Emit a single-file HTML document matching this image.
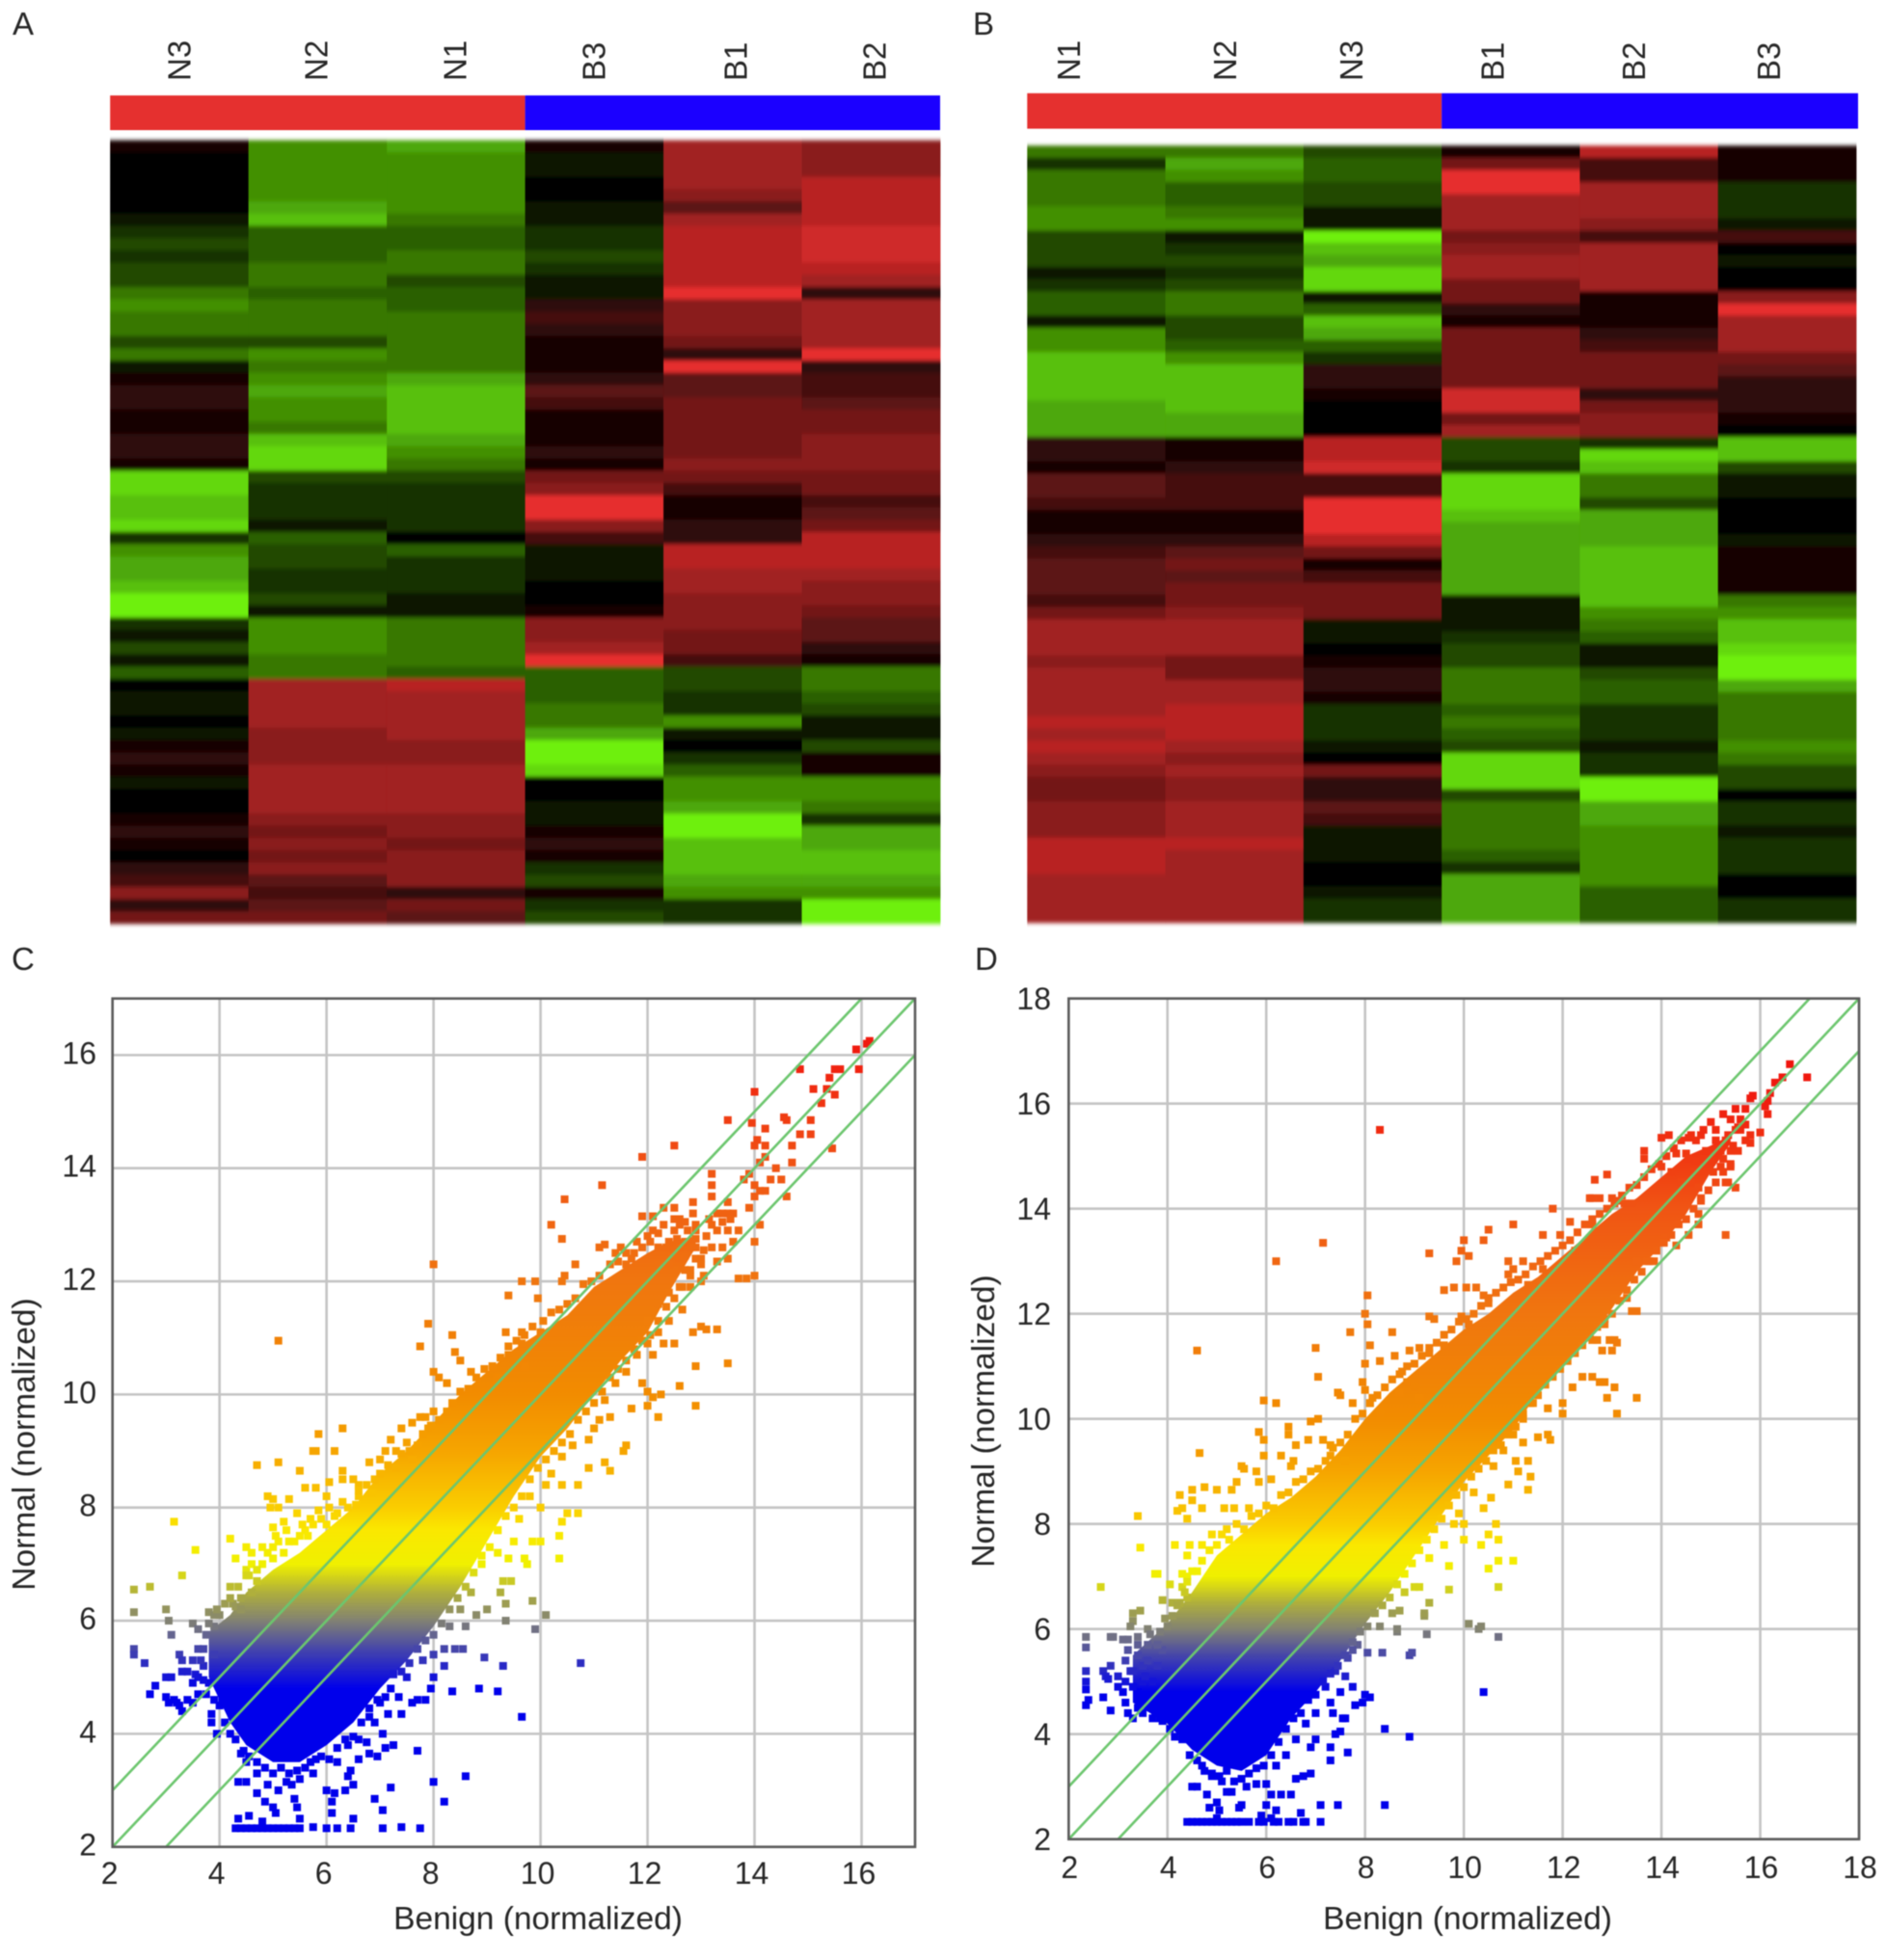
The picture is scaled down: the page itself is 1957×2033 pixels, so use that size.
<!DOCTYPE html>
<html lang="en">
<head>
<meta charset="utf-8">
<title>Heatmaps and scatter plots: Normal vs Benign</title>
<style>
html,body{margin:0;padding:0;background:#fff;}
svg{display:block;filter:blur(0.55px);}
text{font-family:"Liberation Sans",sans-serif;fill:#262626;}
</style>
</head>
<body>
<svg id="fig" xmlns="http://www.w3.org/2000/svg" width="1957" height="2033" viewBox="0 0 1957 2033">
  <defs>
    <filter id="rowSoften" x="0" y="-1%" width="100%" height="102%"><feGaussianBlur stdDeviation="0 2"/></filter>
  </defs>
  <rect x="0" y="0" width="1957" height="2033" fill="#fff"/>
  <g id="panelA"></g>
  <g id="panelB"></g>
  <g id="panelC"></g>
  <g id="panelD"></g>
  <text x="13" y="36" font-size="33">A</text>
  <text x="1009" y="36" font-size="33">B</text>
  <text x="12" y="1006" font-size="33">C</text>
  <text x="1011" y="1006" font-size="33">D</text>
  <text x="558" y="2001" font-size="33.5" text-anchor="middle">Benign (normalized)</text>
  <text transform="translate(36,1498) rotate(-90)" font-size="33.5" text-anchor="middle">Normal (normalized)</text>
  <text x="1522" y="2001" font-size="33.5" text-anchor="middle">Benign (normalized)</text>
  <text transform="translate(1031,1474) rotate(-90)" font-size="33.5" text-anchor="middle">Normal (normalized)</text>
</svg>
<script>
// ---------- Heatmap A: values per sample, top row to bottom row (-10 green .. +10 red) ----------
const samplesA = ['N3','N2','N1','B3','B1','B2'];
const heatA_N3 = [1,0,0,0,0,0,-1,-2,-3,-2, -3,-3,-5,-6,-5,-5,-3,-5,-1,1, 2,2,1,1,2,2,1,-9,-9,-8, -8,-9,-2,-6,-7,-7,-8,-10,-10,-2, -1,-3,-1,-4,0,-1,-1,0,-1,1, 2,1,-1,0,0,1,2,1,0,2, 3,6,2,5];
const heatA_N2 = [-6,-6,-6,-6,-6,-7,-8,-4,-4,-4, -5,-5,-4,-5,-5,-5,-3,-6,-5,-6, -7,-6,-6,-5,-8,-9,-9,-3,-2,-2, -2,-1,-4,-3,-3,-2,-2,-3,-1,-6, -6,-6,-5,-5,7,7,7,7,6,6, 6,7,7,7,7,6,5,6,5,6, 4,3,4,5];
const heatA_N1 = [-7,-6,-6,-6,-6,-6,-5,-4,-4,-5, -5,-3,-4,-4,-5,-5,-5,-5,-5,-7, -8,-8,-8,-8,-7,-6,-5,-3,-2,-2, -2,-2,0,-4,-2,-2,-2,-1,-1,-5, -5,-5,-5,-4,8,7,7,7,7,6, 6,7,7,7,7,6,6,5,6,6, 6,2,5,4];
const heatA_B3 = [1,-1,-1,0,0,-1,-1,-2,-2,-3, -2,-1,-1,2,3,2,1,1,1,2, 4,3,1,1,1,2,1,5,6,10, 10,6,3,-1,-1,-1,0,0,1,6, 6,7,10,-4,-4,-4,-5,-5,-7,-10, -10,-9,0,0,-1,-1,1,2,1,-2, -3,1,-2,-3];
const heatA_B1 = [7,7,7,7,6,4,7,8,8,8, 8,8,10,6,6,6,5,2,10,4, 4,5,5,5,5,5,6,5,3,1, 1,2,2,8,8,7,7,6,6,6, 5,5,3,-3,-3,-2,-2,-6,-1,0, -2,-4,-6,-6,-7,-10,-10,-8,-8,-8, -7,-6,-2,-2];
const heatA_B2 = [6,6,6,8,8,8,8,9,9,9, 8,7,2,7,7,7,7,10,2,3, 3,4,5,5,6,6,6,5,5,3, 4,5,8,8,8,7,6,6,5,4, 4,2,1,-5,-5,-4,-3,-1,-1,-3, 1,1,-6,-6,-5,-2,-7,-7,-8,-8, -7,-6,-10,-10];

// ---------- Heatmap B ----------
const samplesB = ['N1','N2','N3','B1','B2','B3'];
const heatB_N1 = [-5,-2,-5,-5,-5,-6,-6,-3,-3,-3, -1,-2,-4,-4,-1,-6,-6,-8,-8,-8, -8,-7,-7,-7,2,2,1,4,4,3, 1,1,2,3,4,4,4,3,5,7, 7,7,6,7,7,7,7,8,7,8, 7,6,5,5,6,6,6,8,8,8, 7,7,7,7];
const heatB_N2 = [-5,-7,-6,-4,-4,-5,-6,-1,-2,-3, -2,-3,-5,-5,-3,-3,-4,-6,-8,-8, -8,-8,-7,-7,1,1,2,3,3,3, 1,1,2,4,5,4,5,5,6,7, 7,7,5,5,7,7,8,8,8,7, 6,7,6,6,7,7,7,8,7,7, 7,7,7,7];
const heatB_N3 = [-3,-4,-4,-3,-3,-1,-1,-10,-8,-7, -9,-9,-1,-4,-8,-7,-4,-2,2,2, 1,0,0,0,8,8,9,3,3,10, 10,10,8,5,1,3,5,5,5,-1, -1,0,1,2,2,1,-2,-2,-2,-1, 0,5,2,2,4,3,-1,-1,-1,0, 0,-1,-2,-2];
const heatB_B1 = [1,5,10,10,7,7,7,5,6,7, 7,5,5,2,1,5,5,5,5,5, 9,9,5,7,-3,-3,-2,-9,-9,-9, -8,-7,-7,-7,-7,-7,-7,-1,-1,-1, -2,-3,-3,-5,-5,-5,-4,-5,-4,-3, -9,-9,-9,-3,-5,-5,-5,-5,-4,-2, -7,-7,-7,-7];
const heatB_B2 = [8,3,3,7,7,7,6,3,7,7, 7,7,1,1,1,2,3,5,5,5, 2,5,6,6,-2,-9,-8,-5,-5,-3, -7,-7,-7,-8,-8,-8,-8,-8,-6,-5, -4,-1,-1,-3,-4,-4,-2,-2,-2,-1, -2,-2,-10,-10,-7,-7,-6,-6,-6,-6, -6,-4,-4,-4];
const heatB_B3 = [1,1,1,-2,-2,-2,-1,3,0,-1, 0,0,6,10,7,7,7,5,4,2, 2,2,1,0,-8,-8,-3,-1,-1,0, 0,0,-1,1,1,1,1,-5,-6,-8, -8,-9,-10,-10,-7,-5,-5,-5,-5,-6, -5,-3,-3,0,-2,-2,-1,-2,-2,-2, 0,0,-2,-2];

// ---------- Scatter tick labels ----------
const ticksCx = [2,4,6,8,10,12,14,16];
const ticksCy = [2,4,6,8,10,12,14,16];
const ticksDx = [2,4,6,8,10,12,14,16,18];
const ticksDy = [2,4,6,8,10,12,14,16,18];
const foldOffsets = [1,0,-1];

// ---------- Scatter C: dense cloud outline (x, lower y, upper y) ----------
const coreCx  = [3.8,4.2,4.5,5,5.5,6,6.5,7,7.5,8,8.5,9,9.5,10,10.5,11,11.5,12,12.4,12.9];
const coreClo = [5.0,4.2,3.8,3.5,3.5,3.8,4.2,4.8,5.3,5.9,6.6,7.4,8.2,8.9,9.4,10,10.6,11.1,11.8,12.6];
const coreChi = [5.8,6.1,6.5,6.9,7.2,7.6,8,8.6,9,9.5,10,10.4,10.8,11.1,11.4,11.9,12.2,12.5,12.7,12.8];

// Scatter C: individually visible points [benign, normal]
const pointsC = [
[16.15,16.25],[16.1,16.2],[15.9,16.1],[15.95,15.75],[15.6,15.75],[15.5,15.75],[15.4,15.6],[15.35,15.4],[15.5,15.3],[15.25,15.15],[15.1,15.4],[14.85,15.75],[14,15.35],[13.5,14.85],[13.95,14.8],[15.05,14.85],[14.55,14.9],[14.6,14.85],[14.85,14.6],[15.05,14.6],[14.05,14.5],[14.2,14.7],[14,14.4],[14.2,14.4],[14.7,14.4],[15.45,14.35],[14.7,14.1],[14.2,14.2],[14.1,14.1],[14.4,14],[13.9,13.9],[14,13.7],[14.1,13.6],[14.3,13.8],[14.5,13.8],[13.8,13.8],[14,13.5],[14.2,13.6],[14.6,13.5],[13.5,13.4],[13.9,13.3],[14.1,13],[14,12.7],[13.5,13.2],[13.6,13.2],[13.2,13.9],[13.2,13.7],[13.2,13.5],[12.5,14.4],[11.9,14.2],[11.15,13.7],[10.45,13.45],[10.2,13],[10.4,12.75],[10.65,12.3],[10.45,12.1],[10.4,12],[11.1,12.6],[11.2,12.65],[9.9,12],[9.65,12],[9.4,11.75],[8,12.3],[9.95,11.7],[7.9,11.25],[8.35,11.05],[7.75,10.85],[8.4,10.75],[8.5,10.6],[8.7,10.4],[8,10.4],[8.1,10.3],[8.25,10.2],[5.1,10.95],[9.35,11.1],[9.65,11.1],[10,11.1],[9.65,10.9],[9.4,10.7],[9.2,10.3],[9.5,10.6],[9.7,10.5],
[6.3,9.4],[5.85,9.3],[5.75,9],[5.8,9],[6.15,9],[4.7,8.75],[5.1,8.8],[5.5,8.65],[6.3,8.65],[6.3,8.5],[6.05,8.45],[5.8,8.35],[5.6,8.35],[5.3,8.15],[5,8.15],[5.1,8],[4.9,8.2],[4.95,8],[5.45,7.9],[5.85,7.95],[6.2,7.9],[6.6,8.4],[7.1,9],[7.3,9],[7.5,9.15],[7.6,8.85],[7.85,9.6],[8,9.7],[7.75,9.6],[7.9,9.4],[6.9,8.5],[6.6,8.2],[5.2,7.75],[5,7.65],[5.3,7.4],[5.1,7.4],[4.5,7.3],[4.2,7.45],[4.6,7.2],[3.15,7.75],[3.55,7.25],[3.3,6.8],[2.4,6.55],[2.7,6.6],[2.4,6.15],[3,6.2],[3.05,6],[3.1,5.75],[3.5,5.95],[3.8,6.15],[3.9,6.1],[4,6.1],[3.9,5.9],[4.25,6.3],[4.3,6.25],[4.4,6.2],[4.4,6.4],[4.6,6.5],[4.7,6.7],[4.5,6.9],[4.3,7.1],[4.8,7],[5,7.1],[5.6,7.6],[5.7,7.8],[6,8.2],[6.5,8.5],[6.8,8.8],[7.2,9.2],[7.4,9.4],[7.6,9.5],
[2.4,5.5],[2.4,5.4],[2.6,5.25],[3.25,5.4],[3.3,5.3],[3.1,5],[3.3,5.1],[3.4,5.1],[3.55,5.05],[3,5],[2.8,4.85],[2.7,4.7],[3,4.65],[3.05,4.55],[3.15,4.6],[3.2,4.55],[3.25,4.5],[3.3,4.4],[3.4,4.6],[3.5,4.55],[3.6,4.7],[3.75,4.7],[3.85,4.35],[3.85,4.2],[3.95,4],[3.9,5.4],[3.6,5.5],[3.7,5.2],[3.8,4.9],[3.5,5.3],[3.6,5],[4,4.5],[4.1,4.2],[4.2,4],
[4.3,2.33],[4.4,2.33],[4.5,2.33],[4.6,2.33],[4.7,2.33],[4.8,2.33],[4.9,2.33],[5,2.33],[5.1,2.33],[5.2,2.33],[5.3,2.33],[5.4,2.33],[5.5,2.33],[5.75,2.35],[6,2.33],[6.2,2.33],[6.45,2.33],[7.05,2.33],[7.4,2.35],[7.75,2.33],[4.35,2.5],[4.55,2.55],[4.8,2.45],[5.5,2.5],[6.1,2.6],[6.5,2.5],[6.1,2.8],[6.15,2.95],[6.35,3],[6.5,3.1],[6,3],[6.9,2.85],[7.05,2.65],[7.2,3.05],[8.2,2.8],[8.6,3.25],[8,3.15],[7.7,3.7],[7.1,3.75],[7.25,3.8],[4.4,3.65],[4.5,3.5],[4.35,3.15],[4.5,3.15],[4.7,2.95],[4.85,2.8],[5,2.7],[5.05,2.6],[5.4,2.85],[5.45,2.7],[5.25,3.15],[5.35,3.1],[5.5,3.2],[5.7,3.5],[5.8,3.55],[6.4,3.25],[6.45,3.35],[6.6,3.55],[6.8,3.65],[6.95,3.6],[6.75,3.85],[7.05,4],[7.15,4.35],[7,4.55],[7.4,4.35],[7.35,4.65],[7.6,4.55],[7.7,4.6],[7.85,4.6],[7.95,4.8],[8,5],[8.2,5.2],[8.35,4.75],[8.85,4.8],[9.2,4.75],[9.65,4.3],[9.3,5.2],[10.75,5.25],[8.95,5.35],[8.4,5.5],[8.2,5.5],[8.55,5.5],[4.7,3.3],[4.9,3.1],[5.1,3],[6.2,3.5],[6.6,3.9],[6.4,3.8],[7.2,4.8],[7.5,5],[7.8,5.3],[8,5.4],[6.8,4.3],[6.9,4.2],
[8.8,6.1],[9,6.2],[9.35,6],[9.35,6.3],[9.25,6.5],[9.85,6.35],[10.1,6.1],[9.9,5.85],[9.45,6.7],[9.3,6.7],[8.9,7],[8.7,6.5],[8.5,6.2],[8.3,5.9],[8.6,5.9],
[10.35,7.1],[10.35,7.5],[10.4,7.75],[10.5,7.9],[10.7,7.9],[10,7.4],[9.85,7.4],[9.7,7.1],[9.75,7],[9.4,7.1],[10,8],[10.1,8.4],[10.4,8.4],[10.7,8.4],[10.9,8.7],[11.3,8.65],[11.2,8.8],[11.6,9.1],[11.55,9],[11.3,9.6],[11.1,9.55],[11.7,9.75],[12,9.8],[12.2,9.6],[12.1,9.95],[12,10.05],[11.9,10.2],[12.25,10],[12.6,10.15],[12.9,9.8],[12.9,10.5],[13.5,10.55],[13.3,11.15],[13.1,11.15],[12.85,11.1],[12.5,10.9],[12.65,11.5],[13,11.2],[9.2,7.2],[9.5,7.4],[9.6,7.8],[9.8,8.2],[9.2,7.6],[10.2,8.6],[10.4,8.9],[10.6,9.1],[10.9,9.2],[11,9.4],[11.2,9.9],[11.4,10.2],[11.6,10.4],[11.8,10.7],[12,10.9],[12.2,11.1],[12.4,11.3],[12.1,10.7],[12.3,10.9],
[13.7,12.05],[13.85,12.05],[14,12.1],[13.5,12.4],[13.3,12.35],[13,12.4],[12.8,12.6],[12.6,13],[12.5,13.3],[12.6,13.1],[12.7,13.05],[12.85,13.2],[12.85,13.4],[12.3,13.3],[12.1,13.15],[11.9,13.15],[12,12.8],[11.6,12.5],[11.4,12.5],[12.5,12.9],[12.7,12.7],[12.9,12.9],[13.1,12.8],[13.3,12.9],[13.5,12.9],[13.4,12.6],[13.2,12.6],[12.9,12.6],[12.6,12.4],[12.4,12.7],[12.2,12.6],[12.3,12.2],[12.5,12.2],[12.7,12.2],[12.8,11.9],[12.6,11.9],[12.4,11.8],[12.2,11.6],[12,11.3],[12.8,12.2],[13,12],[12.3,13],[12.1,12.9],[12.5,13.1],[12.9,13],[13.2,13],[13.4,13.2],[11.8,12.7],[11.7,12.4],[11.5,12.6]
];
// Scatter C: points along the edges of the dense cloud
const edgePointsC = [
[4.5,6.8],[4.6,7],[4.7,6.9],[4.8,7.3],[4.9,7.2],[5,7.3],[5.05,7.5],[5.2,7.2],[5.25,7.6],[5.4,7.4],[5.5,7.5],[5.55,7.7],[5.65,7.5],[5.75,7.7],[5.9,7.8],[6,7.7],[6.05,8],[6.15,7.85],[6.3,8.1],[6.4,8],[6.55,8.05],[6.6,8.3],[6.75,8.4],[6.85,8.25],[7,8.6],[7,8.85],[7.15,8.75],[7.3,8.7],[7.4,8.95],[7.55,9],[7.7,9.1],[7.8,9.3],[7.95,9.45],[8.1,9.55],[8.25,9.7],[8.35,9.85],[8.5,10.05],[8.65,10.1],[8.8,10.3],[8.95,10.45],[9.1,10.5],[9.25,10.65],[9.4,10.85],[9.55,10.95],[9.7,11.05],[9.85,11.2],[10.05,11.3],[10.2,11.45],[10.35,11.5],[10.5,11.6],[10.65,11.7],[10.8,11.95],[10.95,12],[11.1,12.1],[11.3,12.3],[11.45,12.35],[11.6,12.3],[11.75,12.5],[11.9,12.6],[12.05,12.7],[12.2,12.85],
[4.3,3.9],[4.45,3.7],[4.55,3.6],[4.7,3.5],[4.85,3.4],[5,3.3],[5.15,3.4],[5.3,3.3],[5.45,3.35],[5.6,3.4],[5.75,3.3],[5.9,3.6],[6.05,3.55],[6.2,3.75],[6.35,3.9],[6.5,3.95],[6.65,4.2],[6.8,4.45],[6.95,4.6],[7.1,4.65],[7.25,5.05],[7.4,5.1],[7.55,5.25],[7.7,5.5],[7.85,5.65],[8,5.75],[8.15,5.95],[8.3,6.2],[8.45,6.4],[8.6,6.6],[8.75,6.85],[8.9,7.15],[9.05,7.3],[9.2,7.6],[9.35,7.85],[9.5,8],[9.65,8.2],[9.8,8.5],[9.95,8.7],[10.1,8.85],[10.25,9],[10.4,9.15],[10.55,9.3],[10.7,9.55],[10.85,9.7],[11,9.85],[11.15,10.05],[11.3,10.3],[11.45,10.45],[11.6,10.6],[11.75,10.8],[11.9,10.95],[12.05,11.05],[12.2,11.3],[12.35,11.55],[12.5,11.7],[12.65,11.9],[12.8,12.1],[13,12.3],
[3.5,4.9],[3.65,5.3],[3.7,5.5],[3.75,5.75],[3.8,5.95],[3.6,5.85],[3.95,6.2],[4.05,4.6],[4.1,6.3],[3.7,4.95],[3.9,4.6],[4.2,6.4],[4.35,6.6],[4.2,6.6],[4.55,6.8],
[12.4,12.3],[12.6,12.6],[12.7,12.45],[12.9,12.75],[13.05,12.55],[13.15,13.1],[13.3,13.2],[13.4,13.05],[13.55,13.1],[12.55,12.75],[12.75,12.9],[13.6,12.7],[13.7,12.9],[12.45,12.45],[12.2,12.3],[12.35,12.6],[12.9,12.4],[13.05,12.1]
];

// ---------- Scatter D ----------
const coreDx  = [3.3,4,4.5,5,5.5,6,6.5,7,7.5,8,8.5,9,9.5,10,10.5,11,11.5,12,12.5,13,13.5,14,14.5,15,15.4];
const coreDlo = [4.6,4.2,3.7,3.4,3.3,3.6,4.3,4.8,5.4,6.1,6.7,7.4,8.1,8.8,9.3,9.8,10.5,11,11.5,12.1,12.8,13.3,13.9,14.7,15.25];
const coreDhi = [5.5,6.1,6.7,7.4,7.8,8.2,8.5,8.9,9.4,10,10.5,10.9,11.3,11.7,12,12.4,12.7,13.1,13.5,13.9,14.2,14.6,15,15.2,15.4];

const pointsD = [
[16.95,16.5],[16.6,16.75],[16.45,16.5],[16.3,16.4],[16.2,16.2],[16.15,16.05],[16.1,15.95],[15.85,16.15],[15.8,16.1],[15.7,15.9],[15.5,15.9],[15.25,15.8],[15.1,15.5],[15.4,15.7],[15.55,15.55],[15.35,15.4],[15.6,15.5],[15.8,15.4],[15.8,15.25],[16,15.45],[16.15,15.8],[15.4,15.1],[15.4,14.8],[15.2,14.8],[15.35,14.5],[15.3,14.5],[15.5,14.4],[15.3,13.5],[14.8,14.2],[14.75,13.9],[14.75,13.7],[14.55,13.5],[14.1,13.45],[14.3,13.3],[13.85,13],[13.7,13],[13.5,13],[14.8,15.4],[14.6,15.4],[14.5,15.05],[14.3,15.05],[14.15,15.4],[14,15.35],[13.65,15.1],[13.65,14.95],[14,14.8],[14.2,14.7],[14.4,14.5],[8.3,15.5],[12.65,14.55],[12.9,14.65],[12.6,14.2],[12.55,14.2],[12.75,14.2],[13,14.2],[13.1,14.15],[13.25,14.1],[13.4,14.1],[11.8,14],[12.15,13.75],[11.6,13.5],[11.95,13.5],[12.25,13.2],[12.6,13.7],[11,13.7],[10.5,13.6],[10,13.4],[10.4,13.4],[9.85,13],[10.1,13.1],[9.95,13.2],[9.3,13.15],[7.15,13.35],[6.2,13],[10.9,13],[11,12.85],[11.2,13],[10.9,12.75],[11.6,12.85],[11.3,12.55],[11.55,12.6],[9.8,12.5],[9.6,12.45],[10.05,12.5],[10.25,12.5],[10.4,12.35],[10.5,12.3],[8.05,12.35],[8,12],[8.05,11.8],[9.3,11.95],[9.4,11.9],[7.7,11.65],[8.1,11.4],[8.55,11.65],[7,11.35],[4.6,11.3],[8,11.05],[8.3,11.1],[8.6,11.2],[8.9,11.3],[9.1,11.35],[9.3,11.25],[9.6,11.4],[9.95,11.95],[10.1,11.8],[8.75,10.9],[8.85,10.7],[9,10.6],[8.7,10.5],[9.1,10.4],[7.95,10.7],[8,10.55],[8.15,10.4],[8.3,10.1],[7.05,10.8],[7.45,10.5],[7.5,10.45],[7.75,10.3],[8.1,10.3],[7.05,10],[6.2,10.3],[5.95,10.35],[6.45,9.85],[6.9,9.95],[5.85,9.75],[5.95,9.6],[6.45,9.7],[6.6,9.5],[6.85,9.6],[7.15,9.6],[7.3,9.5],[7.6,9.2],[7.3,9.3],[4.65,9.35],[6.3,9.3],[5.95,9.3],[5.5,9.1],[5.55,9.05],[6.55,9.2],[6.5,9.1],[5.8,9],[6.1,8.85],[5.85,8.8],[5.4,8.8],[5.3,8.65],[5,8.65],[4.75,8.7],[4.5,8.65],[4.25,8.55],[4.3,8.3],[4.2,8.25],[4.5,8.45],[4.7,8.3],[5.15,8.3],[5.35,8.3],[5.65,8.3],[3.4,8.15],[4.4,8.1],[3.45,7.55],[4.15,7.6],[4.45,7.6],[4.7,7.6],[4.9,7.8],[5.2,7.9],[3.75,7.05],[3.8,7.05],[4.05,6.85],[3.9,6.55],[2.65,6.8],[4.4,7.4],[4.5,7.1],[4.4,7],[4.3,7.05],[4.3,6.8],
[3.3,6.3],[3.45,6.35],[3.3,6.15],[3.25,6.05],[3.6,6],[3.85,5.95],[4,6.05],[4.1,6.5],[4.25,6.5],[4.4,6.6],[2.35,5.85],[2.35,5.65],[2.85,5.85],[2.9,5.85],[3.1,5.8],[3.2,5.8],[3.4,5.85],[3.6,5.7],[3.9,5.6],[3.4,5.5],[3.2,5.6],[3.15,5.4],[3.5,5.3],[2.35,5.2],[2.35,5],[2.35,4.85],[2.4,4.65],[2.35,4.55],[2.7,4.7],[2.85,4.45],[2.7,5.2],[2.75,5.1],[2.8,5.05],[2.85,5.3],[3,5.1],[3.15,5],[3.1,4.8],[3.15,4.6],[3.2,4.4],[3.3,4.3],[3.4,4.5],[3.5,4.4],[3.7,4.3],[3.85,4.3],[4,4.5],[3.6,4.7],[3.4,4.8],[3,4.9],[3.25,5.2],[3.3,4.9],[3.5,5],[3.7,5],[3.8,5.3],
[4.4,2.33],[4.5,2.33],[4.6,2.33],[4.7,2.33],[4.8,2.33],[4.9,2.33],[5,2.33],[5.1,2.33],[5.2,2.33],[5.3,2.33],[5.4,2.33],[5.5,2.33],[5.65,2.33],[5.85,2.33],[5.95,2.33],[6.15,2.33],[6.25,2.33],[6.45,2.33],[6.55,2.33],[6.75,2.33],[6.8,2.33],[7.1,2.33],[6.7,2.5],[7.1,2.65],[7.45,2.65],[8.4,2.65],[6.2,2.55],[6.1,2.4],[5.9,2.45],[5,2.4],[5.05,2.55],[5.45,2.6],[5.5,2.65],[4.85,2.6],[5,2.7],[4.8,2.85],[4.6,3],[4.5,3],[5.2,2.9],[5.3,2.9],[5.6,3],[5.8,3.05],[6,3.05],[6.1,2.85],[6.3,2.85],[6.5,2.85],[6,2.65],[6.9,3.25],[6.75,3.2],[6.6,3.15],[7.3,3.5],[7.65,3.65],[7.3,3.75],[7,3.9],[6.9,3.75],[7.4,4],[7.5,4.05],[7.6,4.3],[7.35,4.4],[7.55,4.3],[7.8,4.55],[7.95,4.6],[8,4.75],[8.1,4.7],[8.4,4.1],[8.9,3.95],[10.4,4.8],[7.5,4.8],[7.3,4.6],[7.75,4.9],[7.6,5.1],[7.65,5.45],[7.85,5.7],[7.75,5.6],[8.05,5.55],[8.35,5.55],[8.65,5.95],[8.9,5.5],[8.95,5.55],[9.25,5.9],[8.65,6],[8.3,6.05],[8.55,6.3],[8.7,6.35],[9.2,6.25],[9.2,6.3],[9.3,6.5],[8.8,6.7],[9,6.8],[9.1,6.8],[9.7,6.75],[10.1,6.1],[10.3,6],[10.35,6.05],[10.7,5.85],[10.7,6.8],[10.5,7.15],[10.7,7.3],[11,7.3],[10.5,7.8],[10.7,7.7],[10.65,8],[10.35,7.6],[10,7.7],[9.7,7.2],[9.3,7.35],[10.4,8.3],[10.55,8.5],[10.2,8.6],[10.9,8.75],[11.3,8.65],[11.1,9],[11.35,8.9],[11.05,9.2],[11.3,9.2],[11.2,9.55],[11.5,9.65],[11.7,9.7],[11.75,9.6],[11.7,10.2],[12,10.1],[12,10.3],[12.2,10.6],[12.4,10.8],[12.6,10.8],[12.85,10.7],[12.9,10.4],[13.1,10.1],[13.5,10.4],[13.05,10.6],[12.75,10.7],[12.95,11.5],[12.8,11.3],[13,11.3],[13.1,11.45],[12.85,11.8],[13.05,11.5],[13.4,12.05],[13.5,12.05],[13.05,12.3],[13.3,12.3],[12.6,11.5],[12.7,11.5],
[4.7,3.4],[4.9,3.2],[5.1,3.1],[6.2,3.4],[6.4,3.6],[6.6,3.9],[6.8,4.2],[7,4.4],[7.2,4.9],[7.4,5.2],[9.9,8.2],[10,8],[9.6,7.6],[9.8,8],[10.6,9.1],[10.8,9.4],[11,9.7],[11.2,10],[11.4,10.3]
];
// Scatter D: points along the edges of the dense cloud and its narrow upper tip
const edgePointsD = [
[4.4,6.9],[4.6,7.1],[4.7,7.3],[4.85,7.5],[5,7.6],[5.1,7.8],[5.25,7.7],[5.4,8],[5.55,7.9],[5.7,8.15],[5.85,8.2],[6,8.35],[6.15,8.3],[6.3,8.55],[6.45,8.6],[6.6,8.8],[6.75,8.85],[6.9,9],[7.05,9.05],[7.2,9.2],[7.35,9.45],[7.5,9.55],[7.65,9.7],[7.8,10],[7.95,10.1],[8.1,10.3],[8.25,10.45],[8.4,10.6],[8.55,10.75],[8.7,10.85],[8.85,11],[9,11.05],[9.15,11.2],[9.3,11.35],[9.45,11.45],[9.6,11.6],[9.75,11.7],[9.9,11.85],[10.05,11.9],[10.2,12],[10.35,12.15],[10.5,12.2],[10.65,12.4],[10.8,12.5],[10.95,12.6],[11.1,12.65],[11.25,12.75],[11.4,12.9],[11.55,13],[11.7,13.1],[11.85,13.2],[12,13.3],[12.15,13.4],[12.3,13.55],[12.45,13.7],[12.6,13.8],[12.75,13.9],[12.9,14],[13.05,14.1],[13.2,14.25],[13.35,14.4],[13.5,14.45],[13.65,14.6],[13.8,14.75],[13.95,14.85],[14.1,15],[14.25,15.15],[14.4,15.3],[14.55,15.35],[14.7,15.3],[14.85,15.5],[15,15.65],
[4.3,3.9],[4.45,3.6],[4.6,3.5],[4.75,3.3],[4.9,3.25],[5.05,3.2],[5.2,3.3],[5.35,3.1],[5.5,3.15],[5.65,3.25],[5.8,3.35],[5.95,3.4],[6.1,3.6],[6.25,3.85],[6.4,4.1],[6.55,4.3],[6.7,4.4],[6.85,4.65],[7,4.75],[7.15,5],[7.3,5.15],[7.45,5.3],[7.6,5.5],[7.75,5.75],[7.9,5.95],[8.05,6.05],[8.2,6.3],[8.35,6.45],[8.5,6.6],[8.65,6.85],[8.8,7.05],[8.95,7.25],[9.1,7.5],[9.25,7.7],[9.4,7.9],[9.55,8.1],[9.7,8.35],[9.85,8.55],[10,8.7],[10.15,8.9],[10.3,9.05],[10.45,9.2],[10.6,9.4],[10.75,9.5],[10.9,9.7],[11.05,9.85],[11.2,10.1],[11.35,10.3],[11.5,10.45],[11.65,10.65],[11.8,10.8],[11.95,10.95],[12.1,11.1],[12.25,11.25],[12.4,11.4],[12.55,11.55],[12.7,11.75],[12.85,11.9],[13,12],[13.15,12.25],[13.3,12.45],[13.45,12.65],[13.6,12.8],[13.75,13],[13.9,13.2],[14.05,13.35],[14.2,13.5],[14.35,13.7],[14.5,13.8],[14.65,14],[14.8,14.15],[14.95,14.35],[15.1,14.5],[15.25,14.7],[15.4,14.85],[15.55,15.1],[15.7,15.3],
[14.6,14.5],[14.8,14.7],[15,14.9],[15.2,15.1],[15.3,15.3],[15.5,15.5],[14.7,14.9],[14.9,15.1],[15.1,15.3],[14.75,14.4],[15.05,14.7],[15.25,14.95],[15.45,15.2],[15.6,15.7],[15.7,15.6],[14.65,14.7],[14.55,14.95],[14.85,14.95],
[3.4,5.7],[3.6,5.4],[3.3,5.2],[3.55,5.1],[3.45,4.7],[3.7,4.55],[3.8,5.7],[3.95,6.2],[4.1,6.25],[4.2,6.45],[4.35,6.7],[3.65,5.9],[3.75,4.4],[3.9,4.25],[4.05,4.1],[4.15,3.95]
];

// Point colour along the normal-value axis: [normal value, r, g, b]
const colorStops = [[2,0,0,235],[4.8,0,0,235],[5.5,70,70,170],[6,130,130,115],[6.5,175,175,60],[7,240,240,0],[7.6,250,232,0],[8,250,205,0],[9,246,165,0],[10,242,140,0],[12,240,118,15],[14,240,85,20],[16,240,28,15],[18,240,10,10]];

const NS = 'http://www.w3.org/2000/svg';
function make(tag, attrs, parent){
  const e = document.createElementNS(NS, tag);
  for (const k in attrs) e.setAttribute(k, attrs[k]);
  parent.appendChild(e);
  return e;
}
function heatColor(v){
  const a = Math.min(10, Math.abs(v));
  if (v >= 0) return 'rgb(' + Math.round(23*a) + ',' + Math.round(4.5*a) + ',' + Math.round(4.5*a) + ')';
  return 'rgb(' + Math.round(11*a) + ',' + Math.round(24*a) + ',' + Math.round(1*a) + ')';
}
function normalColor(y){
  let i = 0;
  while (i < colorStops.length-2 && y > colorStops[i+1][0]) i++;
  const s0 = colorStops[i], s1 = colorStops[i+1];
  const t = Math.max(0, Math.min(1, (y - s0[0])/(s1[0]-s0[0])));
  return 'rgb(' + [1,2,3].map(j => Math.round(s0[j] + (s1[j]-s0[j])*t)).join(',') + ')';
}

function drawHeatmap(panel, cols, samples, box, labelCenters){
  const g = document.getElementById(panel);
  const colW = (box.x1 - box.x0) / cols.length;
  const splitX = box.x0 + colW * 3;
  const normalBar = make('rect', {x:box.x0, y:box.by0, width:splitX-box.x0, height:box.by1-box.by0, fill:'#e5302f'}, g);
  
  
  const benignBar = make('rect', {x:splitX, y:box.by0, width:box.bx1-splitX, height:box.by1-box.by0, fill:'#1b00ff'}, g);
  
  
  const cellsGroup = make('g', {filter:'url(#rowSoften)'}, g);
  cols.forEach((values, c) => {
    const rowH = (box.y1 - box.y0) / values.length;
    values.forEach((v, r) => {
      const cell = make('rect', {x:box.x0 + c*colW, y:box.y0 + r*rowH, width:colW+0.4, height:rowH+0.4, fill:heatColor(v)}, cellsGroup);
      
      
    });
    const lx = labelCenters[c] + 11.5;
    const label = make('text', {transform:'translate(' + lx + ',' + box.ly + ') rotate(-90)', 'font-size':33}, g);
    label.textContent = samples[c];
    
    
  });
}

function drawScatter(panel, cfg){
  const g = document.getElementById(panel);
  const sx = x => cfg.px0 + (x - cfg.dx0) * (cfg.px1 - cfg.px0) / (cfg.dx1 - cfg.dx0);
  const sy = y => cfg.py0 + (y - cfg.dy0) * (cfg.py1 - cfg.py0) / (cfg.dy1 - cfg.dy0);

  const defs = make('defs', {}, g);
  const clip = make('clipPath', {id:panel + '-clip'}, defs);
  make('rect', {x:cfg.px0, y:cfg.py1, width:cfg.px1-cfg.px0, height:cfg.py0-cfg.py1}, clip);
  const grad = make('linearGradient', {id:panel + '-grad', gradientUnits:'userSpaceOnUse', x1:0, x2:0, y1:sy(2), y2:sy(18)}, defs);
  colorStops.forEach(s => {
    make('stop', {offset:(s[0]-2)/16, 'stop-color':'rgb(' + s[1] + ',' + s[2] + ',' + s[3] + ')'}, grad);
  });

  cfg.xTicks.forEach(t => {
    const line = make('line', {x1:sx(t), x2:sx(t), y1:cfg.py0, y2:cfg.py1, stroke:'#c4c4c4', 'stroke-width':2.6}, g);
    
    
    const label = make('text', {x:sx(t)+cfg.xLabelShift, y:cfg.xLabelY, 'font-size':32, 'text-anchor':'middle'}, g);
    label.textContent = t;
    
    
  });
  cfg.yTicks.forEach(t => {
    const line = make('line', {x1:cfg.px0, x2:cfg.px1, y1:sy(t), y2:sy(t), stroke:'#c4c4c4', 'stroke-width':2.6}, g);
    
    
    const label = make('text', {x:cfg.yLabelX, y:sy(t)+cfg.yLabelShift, 'font-size':32, 'text-anchor':'end'}, g);
    label.textContent = t;
    
    
  });

  const plot = make('g', {'clip-path':'url(#' + panel + '-clip)'}, g);

  const upper = cfg.coreX.map((x,i) => sx(x) + ',' + sy(cfg.coreHi[i]));
  const lower = cfg.coreX.map((x,i) => sx(x) + ',' + sy(cfg.coreLo[i])).reverse();
  const core = make('polygon', {points:upper.concat(lower).join(' '), fill:'url(#' + panel + '-grad)'}, plot);
  
  

  const size = 8;
  cfg.points.forEach(p => {
    const pt = make('rect', {x:sx(p[0])-size/2, y:sy(p[1])-size/2, width:size, height:size, fill:normalColor(p[1])}, plot);
    
    
  });

  foldOffsets.forEach(off => {
    const fold = make('line', {x1:sx(cfg.dx0), y1:sy(cfg.dx0+off), x2:sx(cfg.dx1), y2:sy(cfg.dx1+off), stroke:'#6cc66e', 'stroke-width':2.6}, plot);
    
    
  });

  const frame = make('rect', {x:cfg.px0, y:cfg.py1, width:cfg.px1-cfg.px0, height:cfg.py0-cfg.py1, fill:'none', stroke:'#5c5c5c', 'stroke-width':2.6}, g);
  
  
}

drawHeatmap('panelA', [heatA_N3,heatA_N2,heatA_N1,heatA_B3,heatA_B1,heatA_B2], samplesA,
  {x0:114.2, x1:975, y0:145.4, y1:958, bx1:975, by0:99, by1:135, ly:84},
  [186,328,472,616,763,907]);
drawHeatmap('panelB', [heatB_N1,heatB_N2,heatB_N3,heatB_B1,heatB_B2,heatB_B3], samplesB,
  {x0:1065.3, x1:1925, y0:151, y1:957, bx1:1927, by0:96.7, by1:133.5, ly:84},
  [1108.7,1270.4,1401.7,1548,1694.7,1834.5]);

drawScatter('panelC', {
  dx0:2, dx1:17, dy0:2, dy1:17, px0:116.7, px1:949, py0:1915.7, py1:1035.7,
  xTicks:ticksCx, yTicks:ticksCy, xLabelShift:-3, xLabelY:1954, yLabelX:100, yLabelShift:9,
  coreX:coreCx, coreLo:coreClo, coreHi:coreChi, points:pointsC.concat(edgePointsC)
});
drawScatter('panelD', {
  dx0:2, dx1:18, dy0:2, dy1:18, px0:1108.3, px1:1928, py0:1907.7, py1:1035.7,
  xTicks:ticksDx, yTicks:ticksDy, xLabelShift:1, xLabelY:1948, yLabelX:1090, yLabelShift:11.5,
  coreX:coreDx, coreLo:coreDlo, coreHi:coreDhi, points:pointsD.concat(edgePointsD)
});
</script>
</body>
</html>
